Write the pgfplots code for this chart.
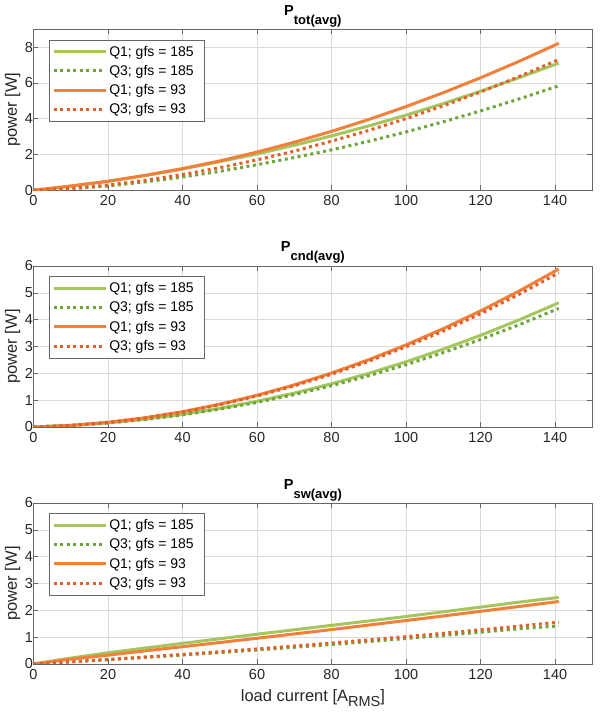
\documentclass[border=0pt]{standalone}
\usepackage{pgfplots}
\pgfplotsset{compat=1.18}
\usepackage{fontspec}
\setmainfont{Liberation Sans}
\definecolor{gA}{RGB}{165,198,95}
\definecolor{gB}{RGB}{110,165,58}
\definecolor{oA}{RGB}{242,128,58}
\definecolor{oB}{RGB}{226,96,40}
\pgfplotsset{
  myax/.style={
    scale only axis, width=558.8pt, height=161pt,
    anchor=south west,
    xmin=0, xmax=150, xtick={0,20,...,140},
    ymin=0,
    grid=major,
    major grid style={draw=black!14, line width=0.5pt},
    axis line style={draw=black!60, line width=0.7pt},
    tick style={draw=black!60, line width=0.6pt},
    tick align=inside, major tick length=5pt,
    xtick pos=both, ytick pos=both,
    ticklabel style={font=\fontsize{14.5}{16}\selectfont, text=black!85},
    yticklabel style={xshift=3pt},
    xticklabel style={yshift=-1.5pt},
    /pgf/number format/assume math mode=true,
    ylabel={power [W]},
    ylabel style={font=\fontsize{16.5}{18}\selectfont, text=black!85, at={(axis description cs:0,0.5)}, anchor=center, yshift=21pt},
    every axis title shift=0pt,
    title style={at={(axis description cs:0.5,1)}, anchor=base, yshift=14pt, text=black},
    legend cell align=left,
    legend image code/.code={\draw[#1] (0pt,0pt) -- (52pt,0pt);},
    legend style={at={(0.0277,0.936)}, anchor=north west, draw=black!60, line width=0.6pt, fill=white,
      font=\fontsize{14}{16}\selectfont, text=black, row sep=3.6pt, inner xsep=3pt, inner ysep=4pt},
  },
  s1/.style={color=gA, line width=3pt},
  s2/.style={color=gB, line width=3pt, dash pattern=on 3pt off 3.5pt},
  s3/.style={color=oA, line width=3pt},
  s4/.style={color=oB, line width=3pt, dash pattern=on 3pt off 3.5pt},
}
\newcommand{\ttl}[1]{{\fontsize{14.5}{16}\selectfont\bfseries P\raisebox{-9pt}{\fontsize{13}{14}\selectfont #1}}}
\newcommand{\lsp}{\hspace*{6pt}}
\begin{document}
\begin{tikzpicture}
\path[use as bounding box] (0,0) rectangle (600pt,719pt);
% top
\begin{axis}[myax, at={(33.5pt,528.7pt)}, ymax=9, ytick={0,2,...,8}, title={\ttl{tot(avg)}}]
\addplot[s1] coordinates {(0,0)(10,0.23)(20,0.50)(30,0.82)(40,1.19)(50,1.60)(60,2.03)(70,2.52)(80,3.04)(90,3.60)(100,4.2)(110,4.847)(120,5.536)(130,6.271)(140,7.033)(141,7.11)};
\addlegendentry{Q1; gfs = 185\lsp}
\addplot[s2] coordinates {(0,0)(10,0.08)(20,0.24)(30,0.47)(40,0.74)(50,1.06)(60,1.43)(70,1.83)(80,2.26)(90,2.74)(100,3.26)(110,3.832)(120,4.436)(130,5.082)(140,5.770)(141,5.84)};
\addlegendentry{Q3; gfs = 185\lsp}
\addplot[s3] coordinates {(0,0)(10,0.241)(20,0.506)(30,0.836)(40,1.215)(50,1.639)(60,2.135)(70,2.687)(80,3.295)(90,3.959)(100,4.68)(110,5.456)(120,6.289)(130,7.178)(140,8.122)(141,8.22)};
\addlegendentry{Q1; gfs = 93}
\addplot[s4] coordinates {(0,0)(10,0.10)(20,0.29)(30,0.56)(40,0.88)(50,1.26)(60,1.70)(70,2.19)(80,2.746)(90,3.348)(100,4.007)(110,4.723)(120,5.496)(130,6.328)(140,7.217)(141,7.309)};
\addlegendentry{Q3; gfs = 93}
\end{axis}
% middle
\begin{axis}[myax, at={(33.5pt,292pt)}, ymax=6, ytick={0,1,...,6}, title={\ttl{cnd(avg)}}]
\addplot[s1] coordinates {(0,0)(10,0.056)(20,0.153)(30,0.292)(40,0.472)(50,0.695)(60,0.958)(70,1.264)(80,1.611)(90,2.000)(100,2.43)(110,2.902)(120,3.416)(130,3.971)(140,4.568)(141,4.63)};
\addlegendentry{Q1; gfs = 185\lsp}
\addplot[s2] coordinates {(0,0)(10,0.053)(20,0.146)(30,0.279)(40,0.451)(50,0.664)(60,0.915)(70,1.207)(80,1.539)(90,1.910)(100,2.321)(110,2.771)(120,3.262)(130,3.792)(140,4.362)(141,4.42)};
\addlegendentry{Q3; gfs = 185\lsp}
\addplot[s3] coordinates {(0,0)(10,0.061)(20,0.176)(30,0.346)(40,0.570)(50,0.849)(60,1.182)(70,1.570)(80,2.012)(90,2.509)(100,3.06)(110,3.666)(120,4.326)(130,5.041)(140,5.810)(141,5.89)};
\addlegendentry{Q1; gfs = 93}
\addplot[s4] coordinates {(0,0)(10,0.060)(20,0.172)(30,0.338)(40,0.556)(50,0.829)(60,1.154)(70,1.532)(80,1.964)(90,2.449)(100,2.987)(110,3.578)(120,4.222)(130,4.920)(140,5.671)(141,5.749)};
\addlegendentry{Q3; gfs = 93}
\end{axis}
% bottom
\begin{axis}[myax, at={(33.5pt,55pt)}, ymax=6, ytick={0,1,...,6}, title={\ttl{sw(avg)}},
  xlabel={load current [A\raisebox{-4.5pt}{\fontsize{14.5}{16}\selectfont RMS}]},
  xlabel style={font=\fontsize{16.5}{18}\selectfont, text=black!85, at={(axis description cs:0.5,0)}, anchor=base, yshift=-37.7pt}]
\addplot[s1] coordinates {(0,0)(10,0.22)(20,0.42)(30,0.595)(40,0.77)(50,0.94)(60,1.11)(70,1.275)(80,1.44)(90,1.605)(100,1.77)(110,1.945)(120,2.12)(130,2.30)(140,2.465)(141,2.48)};
\addlegendentry{Q1; gfs = 185\lsp}
\addplot[s2] coordinates {(0,0)(10,0.077)(20,0.158)(30,0.244)(40,0.332)(50,0.425)(60,0.522)(70,0.623)(80,0.727)(90,0.836)(100,0.949)(110,1.065)(120,1.185)(130,1.309)(140,1.41)(141,1.42)};
\addlegendentry{Q3; gfs = 185\lsp}
\addplot[s3] coordinates {(0,0)(10,0.18)(20,0.33)(30,0.49)(40,0.645)(50,0.80)(60,0.96)(70,1.12)(80,1.283)(90,1.450)(100,1.62)(110,1.790)(120,1.963)(130,2.137)(140,2.312)(141,2.33)};
\addlegendentry{Q1; gfs = 93}
\addplot[s4] coordinates {(0,0)(10,0.083)(20,0.170)(30,0.262)(40,0.357)(50,0.457)(60,0.561)(70,0.670)(80,0.782)(90,0.899)(100,1.02)(110,1.145)(120,1.274)(130,1.408)(140,1.546)(141,1.56)};
\addlegendentry{Q3; gfs = 93}
\end{axis}
\end{tikzpicture}
\end{document}
